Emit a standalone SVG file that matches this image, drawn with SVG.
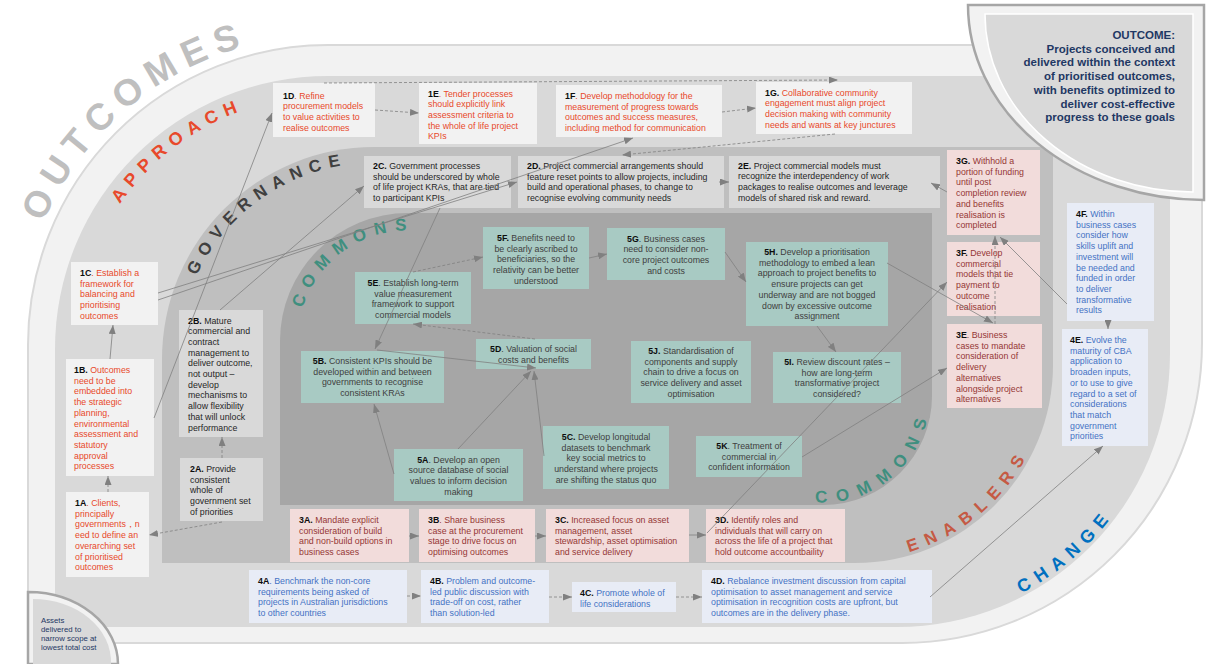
<svg xmlns="http://www.w3.org/2000/svg" width="1211" height="664" viewBox="0 0 1211 664">
<defs>
<style>
.t{font-family:"Liberation Sans",Arial,sans-serif;font-size:8.8px}
.lb{font-weight:bold;fill:#0d0d0d}
.bx1{fill:#f2f2f2}.tx1{fill:#e8492b}
.bx2{fill:#d9d9d9}.tx2{fill:#262626}
.bx3{fill:#f2dcdb}.tx3{fill:#953735}
.bx4{fill:#e8ecf6}.tx4{fill:#4472c4}
.bx5{fill:#a8cac3}.tx5{fill:#404040}
.arc{font-family:"Liberation Sans",Arial,sans-serif;font-weight:bold}
.c{stroke:#808080;stroke-width:0.8;fill:none;marker-end:url(#ah)}
.d{stroke-dasharray:3 2}
</style>
<marker id="ah" markerWidth="9" markerHeight="7" refX="9" refY="3.5" orient="auto" markerUnits="userSpaceOnUse"><path d="M0,0 L9,3.5 L0,7 Z" fill="#808080"/></marker>
<path id="pOut" d="M22.1 294.9 A310 310 0 0 1 324.2 35"/>
<path id="pApp" d="M80.8 292.8 A253.5 253.5 0 0 1 340.4 95.8"/>
<path id="pGov" d="M183.6 312.4 A196 196 0 0 1 386.8 163.4"/>
<path id="pCom1" d="M301.4 311.9 A110.5 110.5 0 0 1 418.1 231"/>
<path id="pCom2" d="M821.3 502.5 A106.5 106.5 0 0 0 927.6 416.1"/>
<path id="pEna" d="M854.2 559.5 A194.5 194.5 0 0 0 1046.4 399.6"/>
<path id="pCha" d="M899.1 623.5 A269.5 269.5 0 0 0 1162.8 398.7"/>
</defs>
<rect width="1211" height="664" fill="#ffffff"/>
<g id="bands">
<path d="M28 345 A300 300 0 0 1 328 45 L1202 45 L1202 343 A300 300 0 0 1 902 643 L28 643 Z" fill="#f2f2f2" stroke="#d9d9d9" stroke-width="2"/>
<path d="M55 349 A273 273 0 0 1 328 76 L1170 76 L1170 354 A273 273 0 0 1 897 627 L55 627 Z" fill="#d9d9d9"/>
<path d="M162 359 A212 212 0 0 1 374 147 L1053 147 L1053 365 A198 198 0 0 1 855 563 L162 563 Z" fill="#bfbfbf"/>
<path d="M280 341 A128 128 0 0 1 408 213 L932 213 L932 396 A109 109 0 0 1 823 505 L280 505 Z" fill="#a6a6a6"/>
</g>
<g id="band-labels">
<text class="arc" font-size="37" fill="#bfbfbf" letter-spacing="8.5" text-anchor="middle"><textPath href="#pOut" startOffset="50%">OUTCOMES</textPath></text>
<text class="arc" font-size="18" fill="#e8492b" letter-spacing="7" text-anchor="middle"><textPath href="#pApp" startOffset="50%">APPROACH</textPath></text>
<text class="arc" font-size="17" fill="#404040" letter-spacing="7.4" text-anchor="middle"><textPath href="#pGov" startOffset="50%">GOVERNANCE</textPath></text>
<text class="arc" font-size="17" fill="#3f8f7f" letter-spacing="8" text-anchor="middle"><textPath href="#pCom1" startOffset="50%">COMMONS</textPath></text>
<text class="arc" font-size="17" fill="#3f8f7f" letter-spacing="10" text-anchor="middle"><textPath href="#pCom2" startOffset="50%">COMMONS</textPath></text>
<text class="arc" font-size="17" fill="#c55a44" letter-spacing="8.4" text-anchor="middle"><textPath href="#pEna" startOffset="50%">ENABLERS</textPath></text>
<text class="arc" font-size="18" fill="#0070c0" letter-spacing="7.4" text-anchor="middle"><textPath href="#pCha" startOffset="50%">CHANGE</textPath></text>
</g>
<g id="nodes">
<g id="n1D"><rect class="bx1" x="273" y="83" width="102" height="54"/><text class="t tx1"><tspan x="283" y="98.5"><tspan class="lb">1D</tspan>. Refine</tspan><tspan x="283" dy="10.7">procurement models</tspan><tspan x="283" dy="10.7">to value activities to</tspan><tspan x="283" dy="10.7">realise outcomes</tspan></text></g>
<g id="n1E"><rect class="bx1" x="419" y="83" width="118" height="61"/><text class="t tx1"><tspan x="428" y="96.5"><tspan class="lb">1E</tspan>. Tender processes</tspan><tspan x="428" dy="10.7">should explicitly link</tspan><tspan x="428" dy="10.7">assessment criteria to</tspan><tspan x="428" dy="10.7">the whole of life project</tspan><tspan x="428" dy="10.7">KPIs</tspan></text></g>
<g id="n1F"><rect class="bx1" x="556" y="85" width="166" height="52"/><text class="t tx1"><tspan x="565" y="99"><tspan class="lb">1F</tspan>. Develop methodology for the</tspan><tspan x="565" dy="10.7">measurement of progress towards</tspan><tspan x="565" dy="10.7">outcomes and success measures,</tspan><tspan x="565" dy="10.7">including method for communication</tspan></text></g>
<g id="n1G"><rect class="bx1" x="756" y="82" width="156" height="52"/><text class="t tx1"><tspan x="765" y="95.5"><tspan class="lb">1G.</tspan> Collaborative community</tspan><tspan x="765" dy="10.7">engagement must align project</tspan><tspan x="765" dy="10.7">decision making with community</tspan><tspan x="765" dy="10.7">needs and wants at key junctures</tspan></text></g>
<g id="n1C"><rect class="bx1" x="71" y="262" width="87" height="63"/><text class="t tx1"><tspan x="80" y="276"><tspan class="lb">1C</tspan>. Establish a</tspan><tspan x="80" dy="10.7">framework for</tspan><tspan x="80" dy="10.7">balancing and</tspan><tspan x="80" dy="10.7">prioritising</tspan><tspan x="80" dy="10.7">outcomes</tspan></text></g>
<g id="n1B"><rect class="bx1" x="66" y="359" width="88" height="117"/><text class="t tx1"><tspan x="74" y="373"><tspan class="lb">1B.</tspan> Outcomes</tspan><tspan x="74" dy="10.7">need to be</tspan><tspan x="74" dy="10.7">embedded into</tspan><tspan x="74" dy="10.7">the strategic</tspan><tspan x="74" dy="10.7">planning,</tspan><tspan x="74" dy="10.7">environmental</tspan><tspan x="74" dy="10.7">assessment and</tspan><tspan x="74" dy="10.7">statutory</tspan><tspan x="74" dy="10.7">approval</tspan><tspan x="74" dy="10.7">processes</tspan></text></g>
<g id="n1A"><rect class="bx1" x="66" y="492" width="83" height="85"/><text class="t tx1"><tspan x="75" y="506"><tspan class="lb">1A</tspan>. Clients,</tspan><tspan x="75" dy="10.7">principally</tspan><tspan x="75" dy="10.7">governments，n</tspan><tspan x="75" dy="10.7">eed to define an</tspan><tspan x="75" dy="10.7">overarching set</tspan><tspan x="75" dy="10.7">of prioritised</tspan><tspan x="75" dy="10.7">outcomes</tspan></text></g>
<g id="n2C"><rect class="bx2" x="364" y="156" width="147" height="52"/><text class="t tx2"><tspan x="373" y="169"><tspan class="lb">2C.</tspan> Government processes</tspan><tspan x="373" dy="10.7">should be underscored by whole</tspan><tspan x="373" dy="10.7">of life project KRAs, that are tied</tspan><tspan x="373" dy="10.7">to participant KPIs</tspan></text></g>
<g id="n2D"><rect class="bx2" x="518" y="156" width="206" height="52"/><text class="t tx2"><tspan x="527" y="169"><tspan class="lb">2D.</tspan> Project commercial arrangements should</tspan><tspan x="527" dy="10.7">feature reset points to allow projects, including</tspan><tspan x="527" dy="10.7">build and operational phases, to change to</tspan><tspan x="527" dy="10.7">recognise evolving community needs</tspan></text></g>
<g id="n2E"><rect class="bx2" x="729" y="156" width="211" height="52"/><text class="t tx2"><tspan x="738" y="168.5"><tspan class="lb">2E.</tspan> Project commercial models must</tspan><tspan x="738" dy="10.7">recognize the interdependency of work</tspan><tspan x="738" dy="10.7">packages to realise outcomes and leverage</tspan><tspan x="738" dy="10.7">models of shared risk and reward.</tspan></text></g>
<g id="n2B"><rect class="bx2" x="179" y="310" width="84" height="127"/><text class="t tx2"><tspan x="188" y="323.5"><tspan class="lb">2B.</tspan> Mature</tspan><tspan x="188" dy="10.7">commercial and</tspan><tspan x="188" dy="10.7">contract</tspan><tspan x="188" dy="10.7">management to</tspan><tspan x="188" dy="10.7">deliver outcome,</tspan><tspan x="188" dy="10.7">not output –</tspan><tspan x="188" dy="10.7">develop</tspan><tspan x="188" dy="10.7">mechanisms to</tspan><tspan x="188" dy="10.7">allow flexibility</tspan><tspan x="188" dy="10.7">that will unlock</tspan><tspan x="188" dy="10.7">performance</tspan></text></g>
<g id="n2A"><rect class="bx2" x="180" y="458" width="83" height="63"/><text class="t tx2"><tspan x="190" y="472"><tspan class="lb">2A.</tspan> Provide</tspan><tspan x="190" dy="10.7">consistent</tspan><tspan x="190" dy="10.7">whole of</tspan><tspan x="190" dy="10.7">government set</tspan><tspan x="190" dy="10.7">of priorities</tspan></text></g>
<g id="n3G"><rect class="bx3" x="947" y="150" width="93" height="85"/><text class="t tx3"><tspan x="956" y="164"><tspan class="lb">3G.</tspan> Withhold a</tspan><tspan x="956" dy="10.7">portion of funding</tspan><tspan x="956" dy="10.7">until post</tspan><tspan x="956" dy="10.7">completion review</tspan><tspan x="956" dy="10.7">and benefits</tspan><tspan x="956" dy="10.7">realisation is</tspan><tspan x="956" dy="10.7">completed</tspan></text></g>
<g id="n3F"><rect class="bx3" x="947" y="242" width="93" height="74"/><text class="t tx3"><tspan x="956" y="256"><tspan class="lb">3F.</tspan> Develop</tspan><tspan x="956" dy="10.7">commercial</tspan><tspan x="956" dy="10.7">models that tie</tspan><tspan x="956" dy="10.7">payment to</tspan><tspan x="956" dy="10.7">outcome</tspan><tspan x="956" dy="10.7">realisation</tspan></text></g>
<g id="n3E"><rect class="bx3" x="947" y="324" width="95" height="84"/><text class="t tx3"><tspan x="956" y="338"><tspan class="lb">3E</tspan>. Business</tspan><tspan x="956" dy="10.7">cases to mandate</tspan><tspan x="956" dy="10.7">consideration of</tspan><tspan x="956" dy="10.7">delivery</tspan><tspan x="956" dy="10.7">alternatives</tspan><tspan x="956" dy="10.7">alongside project</tspan><tspan x="956" dy="10.7">alternatives</tspan></text></g>
<g id="n3A"><rect class="bx3" x="290" y="509" width="119" height="53"/><text class="t tx3"><tspan x="299" y="523"><tspan class="lb">3A.</tspan> Mandate explicit</tspan><tspan x="299" dy="10.7">consideration of build</tspan><tspan x="299" dy="10.7">and non-build options in</tspan><tspan x="299" dy="10.7">business cases</tspan></text></g>
<g id="n3B"><rect class="bx3" x="419" y="509" width="116" height="53"/><text class="t tx3"><tspan x="428" y="523"><tspan class="lb">3B</tspan>. Share business</tspan><tspan x="428" dy="10.7">case at the procurement</tspan><tspan x="428" dy="10.7">stage to drive focus on</tspan><tspan x="428" dy="10.7">optimising outcomes</tspan></text></g>
<g id="n3C"><rect class="bx3" x="546" y="509" width="143" height="53"/><text class="t tx3"><tspan x="555" y="523"><tspan class="lb">3C.</tspan> Increased focus on asset</tspan><tspan x="555" dy="10.7">management, asset</tspan><tspan x="555" dy="10.7">stewardship, asset optimisation</tspan><tspan x="555" dy="10.7">and service delivery</tspan></text></g>
<g id="n3D"><rect class="bx3" x="706" y="509" width="139" height="53"/><text class="t tx3"><tspan x="715" y="523"><tspan class="lb">3D.</tspan> Identify roles and</tspan><tspan x="715" dy="10.7">individuals that will carry on</tspan><tspan x="715" dy="10.7">across the life of a project that</tspan><tspan x="715" dy="10.7">hold outcome accountbaility</tspan></text></g>
<g id="n4A"><rect class="bx4" x="249" y="570" width="158" height="53"/><text class="t tx4"><tspan x="258" y="584"><tspan class="lb">4A</tspan>. Benchmark the non-core</tspan><tspan x="258" dy="10.7">requirements being asked of</tspan><tspan x="258" dy="10.7">projects in Australian jurisdictions</tspan><tspan x="258" dy="10.7">to other countries</tspan></text></g>
<g id="n4B"><rect class="bx4" x="421" y="570" width="128" height="53"/><text class="t tx4"><tspan x="430" y="584"><tspan class="lb">4B.</tspan> Problem and outcome-</tspan><tspan x="430" dy="10.7">led public discussion with</tspan><tspan x="430" dy="10.7">trade-off on cost, rather</tspan><tspan x="430" dy="10.7">than solution-led</tspan></text></g>
<g id="n4C"><rect class="bx4" x="572" y="582" width="104" height="30"/><text class="t tx4"><tspan x="580" y="596"><tspan class="lb">4C.</tspan> Promote whole of</tspan><tspan x="580" dy="10.7">life considerations</tspan></text></g>
<g id="n4D"><rect class="bx4" x="702" y="570" width="230" height="53"/><text class="t tx4"><tspan x="711" y="584"><tspan class="lb">4D.</tspan> Rebalance investment discussion from capital</tspan><tspan x="711" dy="10.7">optimisation to asset management and service</tspan><tspan x="711" dy="10.7">optimisation in recognition costs are upfront, but</tspan><tspan x="711" dy="10.7">outcomes are in the delivery phase.</tspan></text></g>
<g id="n4F"><rect class="bx4" x="1067" y="203" width="87" height="118"/><text class="t tx4"><tspan x="1076" y="217"><tspan class="lb">4F.</tspan> Within</tspan><tspan x="1076" dy="10.7">business cases</tspan><tspan x="1076" dy="10.7">consider how</tspan><tspan x="1076" dy="10.7">skills uplift and</tspan><tspan x="1076" dy="10.7">investment will</tspan><tspan x="1076" dy="10.7">be needed and</tspan><tspan x="1076" dy="10.7">funded in order</tspan><tspan x="1076" dy="10.7">to deliver</tspan><tspan x="1076" dy="10.7">transformative</tspan><tspan x="1076" dy="10.7">results</tspan></text></g>
<g id="n4E"><rect class="bx4" x="1062" y="329" width="86" height="117"/><text class="t tx4"><tspan x="1070" y="343"><tspan class="lb">4E.</tspan> Evolve the</tspan><tspan x="1070" dy="10.7">maturity of CBA</tspan><tspan x="1070" dy="10.7">application to</tspan><tspan x="1070" dy="10.7">broaden inputs,</tspan><tspan x="1070" dy="10.7">or to use to give</tspan><tspan x="1070" dy="10.7">regard to a set of</tspan><tspan x="1070" dy="10.7">considerations</tspan><tspan x="1070" dy="10.7">that match</tspan><tspan x="1070" dy="10.7">government</tspan><tspan x="1070" dy="10.7">priorities</tspan></text></g>
<g id="n5F"><rect class="bx5" x="483" y="227" width="106" height="62"/><text class="t tx5" text-anchor="middle"><tspan x="536" y="241"><tspan class="lb">5F.</tspan> Benefits need to</tspan><tspan x="536" dy="10.7">be clearly ascribed to</tspan><tspan x="536" dy="10.7">beneficiaries, so the</tspan><tspan x="536" dy="10.7">relativity can be better</tspan><tspan x="536" dy="10.7">understood</tspan></text></g>
<g id="n5E"><rect class="bx5" x="355" y="272" width="116" height="52"/><text class="t tx5" text-anchor="middle"><tspan x="413" y="286"><tspan class="lb">5E</tspan>. Establish long-term</tspan><tspan x="413" dy="10.7">value measurement</tspan><tspan x="413" dy="10.7">framework to support</tspan><tspan x="413" dy="10.7">commercial models</tspan></text></g>
<g id="n5G"><rect class="bx5" x="607" y="228" width="118" height="52"/><text class="t tx5" text-anchor="middle"><tspan x="666" y="241.5"><tspan class="lb">5G</tspan>. Business cases</tspan><tspan x="666" dy="10.7">need to consider non-</tspan><tspan x="666" dy="10.7">core project outcomes</tspan><tspan x="666" dy="10.7">and costs</tspan></text></g>
<g id="n5H"><rect class="bx5" x="746" y="242" width="142" height="84"/><text class="t tx5" text-anchor="middle"><tspan x="817" y="255"><tspan class="lb">5H.</tspan> Develop a prioritisation</tspan><tspan x="817" dy="10.7">methodology to embed a lean</tspan><tspan x="817" dy="10.7">approach to project benefits to</tspan><tspan x="817" dy="10.7">ensure projects can get</tspan><tspan x="817" dy="10.7">underway and are not bogged</tspan><tspan x="817" dy="10.7">down by excessive outcome</tspan><tspan x="817" dy="10.7">assignment</tspan></text></g>
<g id="n5D"><rect class="bx5" x="476" y="339" width="115" height="30"/><text class="t tx5" text-anchor="middle"><tspan x="533.5" y="352"><tspan class="lb">5D</tspan>. Valuation of social</tspan><tspan x="533.5" dy="10.7">costs and benefits</tspan></text></g>
<g id="n5B"><rect class="bx5" x="301" y="351" width="143" height="52"/><text class="t tx5" text-anchor="middle"><tspan x="372.5" y="364"><tspan class="lb">5B.</tspan> Consistent KPIs should be</tspan><tspan x="372.5" dy="10.7">developed within and between</tspan><tspan x="372.5" dy="10.7">governments to recognise</tspan><tspan x="372.5" dy="10.7">consistent KRAs</tspan></text></g>
<g id="n5J"><rect class="bx5" x="631" y="341" width="120" height="62"/><text class="t tx5" text-anchor="middle"><tspan x="691" y="354"><tspan class="lb">5J.</tspan> Standardisation of</tspan><tspan x="691" dy="10.7">components and supply</tspan><tspan x="691" dy="10.7">chain to drive a focus on</tspan><tspan x="691" dy="10.7">service delivery and asset</tspan><tspan x="691" dy="10.7">optimisation</tspan></text></g>
<g id="n5I"><rect class="bx5" x="773" y="352" width="128" height="51"/><text class="t tx5" text-anchor="middle"><tspan x="837" y="365"><tspan class="lb">5I.</tspan> Review discount rates –</tspan><tspan x="837" dy="10.7">how are long-term</tspan><tspan x="837" dy="10.7">transformative project</tspan><tspan x="837" dy="10.7">considered?</tspan></text></g>
<g id="n5A"><rect class="bx5" x="394" y="449" width="129" height="52"/><text class="t tx5" text-anchor="middle"><tspan x="458.5" y="462.5"><tspan class="lb">5A</tspan>. Develop an open</tspan><tspan x="458.5" dy="10.7">source database of social</tspan><tspan x="458.5" dy="10.7">values to inform decision</tspan><tspan x="458.5" dy="10.7">making</tspan></text></g>
<g id="n5C"><rect class="bx5" x="543" y="426" width="126" height="63"/><text class="t tx5" text-anchor="middle"><tspan x="606" y="440"><tspan class="lb">5C.</tspan> Develop longitudal</tspan><tspan x="606" dy="10.7">datasets to benchmark</tspan><tspan x="606" dy="10.7">key social metrics to</tspan><tspan x="606" dy="10.7">understand where projects</tspan><tspan x="606" dy="10.7">are shifting the status quo</tspan></text></g>
<g id="n5K"><rect class="bx5" x="696" y="436" width="106" height="41"/><text class="t tx5" text-anchor="middle"><tspan x="749" y="449"><tspan class="lb">5K</tspan>. Treatment of</tspan><tspan x="749" dy="10.7">commercial in</tspan><tspan x="749" dy="10.7">confident information</tspan></text></g>
</g>
<g id="connectors">
<path class="c d" d="M375 110 L419 113"/>
<path class="c d" d="M324 83 L838 80"/>
<path class="c d" d="M722 112 L756 108"/>
<path class="c d" d="M835 134 L622 155"/>
<path class="c" d="M158 300 L633 138"/>
<path class="c" d="M154 418 L272 113"/>
<path class="c" d="M158 293 L517 182"/>
<path class="c" d="M220 310 L364 186"/>
<path class="c" d="M719 182 L729 182"/>
<path class="c" d="M440 208 L375 349"/>
<path class="c d" d="M413 272 L483 257"/>
<path class="c d" d="M535 339 L413 324"/>
<path class="c" d="M377 350 L536 368"/>
<path class="c" d="M394 474 L374 404"/>
<path class="c" d="M458 449 L531 371"/>
<path class="c" d="M544 456 L534 371"/>
<path class="c" d="M589 258 L607 254"/>
<path class="c" d="M725 252 L746 282"/>
<path class="c" d="M817 326 L836 352"/>
<path class="c" d="M887 263 L993 323"/>
<path class="c" d="M707 533 L947 282"/>
<path class="c" d="M802 457 L947 368"/>
<path class="c d" d="M995 324 L995 236"/>
<path class="c" d="M947 192 L931 183"/>
<path class="c" d="M1067 304 L1000 237"/>
<path class="c" d="M1108 321 L1108 329"/>
<path class="c" d="M930 597 L1103 446"/>
<path class="c d" d="M407 596 L421 596"/>
<path class="c d" d="M549 597 L572 597"/>
<path class="c d" d="M676 597 L702 597"/>
<path class="c" d="M409 536 L419 536"/>
<path class="c" d="M535 536 L546 536"/>
<path class="c" d="M689 535 L706 535"/>
<path class="c d" d="M108 492 L108 476"/>
<path class="c" d="M110 359 L113 325"/>
<path class="c d" d="M222 522 L149 535"/>
<path class="c d" d="M222 458 L222 437"/>
</g>
<g id="outcome">
<path d="M968 5 L1204 5 L1204 200 A236 195 0 0 1 968 5 Z" fill="#f2f2f2" stroke="#a6a6a6" stroke-width="2.5"/>
<path d="M985 14 L1193 14 L1193 192 A208 178 0 0 1 985 14 Z" fill="#d9d9d9" stroke="#ffffff" stroke-width="1.5"/>
<text font-family="Liberation Sans, Arial, sans-serif" font-size="11.5" font-weight="bold" fill="#1f3864" text-anchor="end"><tspan x="1175" y="39">OUTCOME:</tspan><tspan x="1175" dy="13.7">Projects conceived and</tspan><tspan x="1175" dy="13.7">delivered within the context</tspan><tspan x="1175" dy="13.7">of prioritised outcomes,</tspan><tspan x="1175" dy="13.7">with benefits optimized to</tspan><tspan x="1175" dy="13.7">deliver cost-effective</tspan><tspan x="1175" dy="13.7">progress to these goals</tspan></text>
</g>
<g id="assets">
<path d="M28 592 A90 72 0 0 1 118 664 L28 664 Z" fill="#f2f2f2" stroke="#a6a6a6" stroke-width="2.5"/>
<path d="M33 599 A78 63 0 0 1 111 664 L33 664 Z" fill="#d9d9d9"/>
<text font-family="Liberation Sans, Arial, sans-serif" font-size="7.8" fill="#1f3864"><tspan x="41" y="622.5">Assets</tspan><tspan x="41" dy="9.3">delivered to</tspan><tspan x="41" dy="9.3">narrow scope at</tspan><tspan x="41" dy="9.3">lowest total cost</tspan></text>
</g>
</svg>
